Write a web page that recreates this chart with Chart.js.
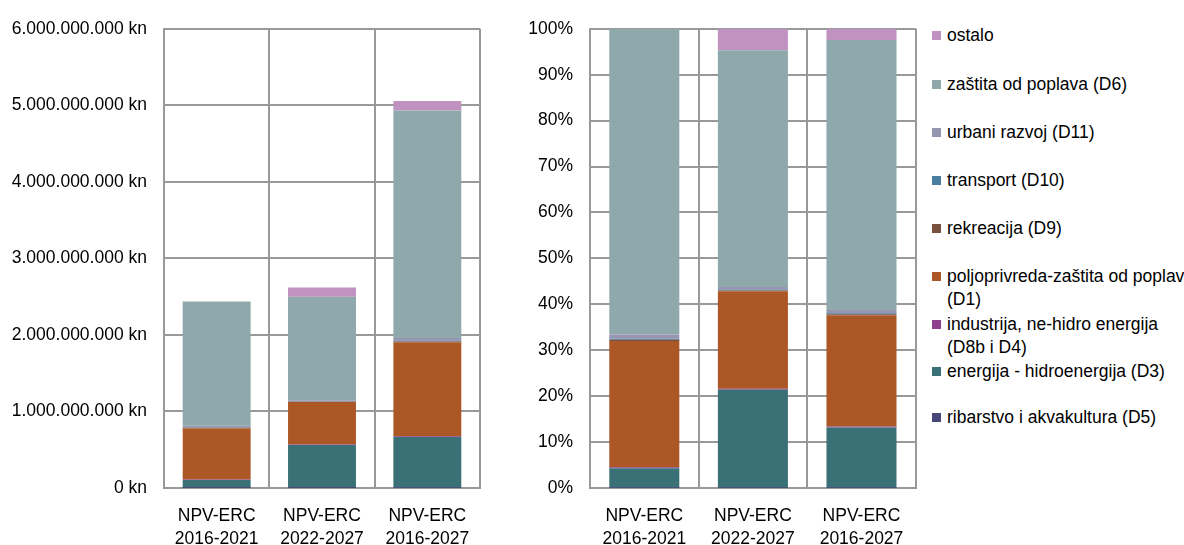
<!DOCTYPE html>
<html>
<head>
    <title>NPV-ERC</title>
    <script src="https://cdn.jsdelivr.net/npm/chart.js"></script>
    <style>
        body { margin: 0; width: 1184px; height: 545px; overflow: hidden; background: #fff; position: relative; font-family: 'Liberation Sans', Arial, sans-serif; }
        #absChart { position: absolute; left: 0; top: 0; }
        #pctChart { position: absolute; left: 440px; top: 0; }
        #legend { position: absolute; left: 0; top: 0; }
        .item { position: absolute; left: 932px; font-size: 17.5px; line-height: 23px; color: #000; white-space: pre; }
        .item span.box { position: absolute; left: 0; top: 7px; width: 9px; height: 9px; }
        .item span.txt { position: absolute; left: 15px; top: 0; }
    </style>
</head>
<body>
    <canvas id="absChart" width="500" height="545"></canvas>
    <canvas id="pctChart" width="480" height="545"></canvas>
    <div id="legend"></div>
    <script>
        // categories and series (kn), bottom of the stack first
        var categories = [['NPV-ERC', '2016-2021'], ['NPV-ERC', '2022-2027'], ['NPV-ERC', '2016-2027']];
        var ribarstvo     = [1e6, 1e6, 2e6];
        var hidroenergija = [104e6, 560e6, 664e6];
        var industrija    = [5e6, 6e6, 11e6];
        var poljoprivreda = [670e6, 556e6, 1226e6];
        var rekreacija    = [6e6, 5e6, 11e6];
        var transport     = [6e6, 5e6, 11e6];
        var urbaniRazvoj  = [22e6, 14e6, 36e6];
        var zastita       = [1622e6, 1351e6, 2973e6];
        var ostalo        = [0, 123e6, 123e6];

        var seriesNames = [
            'ribarstvo i akvakultura (D5)',
            'energija - hidroenergija (D3)',
            'industrija, ne-hidro energija\n(D8b i D4)',
            'poljoprivreda-zaštita od poplava\n(D1)',
            'rekreacija (D9)',
            'transport (D10)',
            'urbani razvoj (D11)',
            'zaštita od poplava (D6)',
            'ostalo'
        ];
        var seriesData = [ribarstvo, hidroenergija, industrija, poljoprivreda, rekreacija, transport, urbaniRazvoj, zastita, ostalo];
        var seriesColors = ['#474778', '#3A7176', '#8E408E', '#AB5826', '#7A5040', '#4A7EA0', '#9696B2', '#8FA8AB', '#BF92BF'];

        var absTicks = [0, 1e9, 2e9, 3e9, 4e9, 5e9, 6e9];
        var pctTicks = [0, 10, 20, 30, 40, 50, 60, 70, 80, 90, 100];

        var font = { family: "'Liberation Sans', Arial, sans-serif", size: 17.5, lineHeight: 1.35 };
        var gridColor = '#999999';

        // totals per category for the 100% chart
        var totals = categories.map(function(c, i) {
            return seriesData.reduce(function(s, d) { return s + d[i]; }, 0);
        });

        function makeDatasets(percent) {
            return seriesData.map(function(d, k) {
                return {
                    label: seriesNames[k],
                    data: percent ? d.map(function(v, i) { return v / totals[i] * 100; }) : d,
                    backgroundColor: seriesColors[k],
                    borderWidth: 0,
                    barPercentage: 0.645,
                    categoryPercentage: 1
                };
            });
        }

        function fmtKn(v) {
            return String(v).replace(/\B(?=(\d{3})+(?!\d))/g, '.') + ' kn';
        }

        function createChart(id, percent, axisWidth, rightPad) {
            var ticks = percent ? pctTicks : absTicks;
            new Chart(document.getElementById(id).getContext('2d'), {
                type: 'bar',
                data: { labels: categories, datasets: makeDatasets(percent) },
                options: {
                    responsive: false,
                    animation: false,
                    layout: { padding: { top: 28, right: rightPad, left: 0, bottom: 0 } },
                    plugins: { legend: { display: false }, tooltip: { enabled: false } },
                    scales: {
                        x: {
                            stacked: true,
                            grid: { color: gridColor, lineWidth: 2, drawTicks: false },
                            border: { color: gridColor, width: 2 },
                            ticks: { color: '#000', font: font, padding: 16, maxRotation: 0 },
                            afterFit: function(s) { s.height = 57; }
                        },
                        y: {
                            stacked: true,
                            min: ticks[0],
                            max: ticks[ticks.length - 1],
                            afterBuildTicks: function(s) { s.ticks = ticks.map(function(v) { return { value: v }; }); },
                            grid: { color: gridColor, lineWidth: 2, drawTicks: false },
                            border: { color: gridColor, width: 2 },
                            ticks: {
                                color: '#000', font: font, padding: 17,
                                callback: function(v) { return percent ? v + '%' : fmtKn(v); }
                            },
                            afterFit: function(s) { s.width = axisWidth; }
                        }
                    }
                }
            });
        }

        createChart('absChart', false, 164, 20);
        createChart('pctChart', true, 150, 4);

        // legend, top of the stack first
        var legendCenters = [36, 85, 133, 181, 229, 277, 325, 372, 418];
        var legend = document.getElementById('legend');
        for (var k = seriesNames.length - 1, n = 0; k >= 0; k--, n++) {
            var item = document.createElement('div');
            item.className = 'item';
            item.style.top = (legendCenters[n] - 12) + 'px';
            item.innerHTML = '<span class="box" style="background:' + seriesColors[k] + '"></span><span class="txt"></span>';
            item.querySelector('.txt').textContent = seriesNames[k];
            legend.appendChild(item);
        }
    </script>
</body>
</html>
